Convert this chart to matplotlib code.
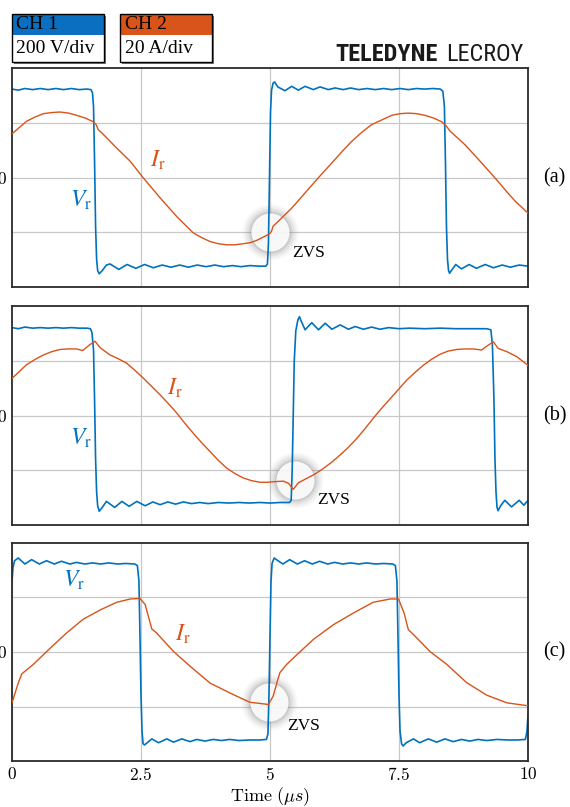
import matplotlib
matplotlib.use('Agg')
import matplotlib.pyplot as plt
from matplotlib import font_manager
from matplotlib.patches import Rectangle

plt.rcParams['font.family'] = ['Liberation Serif', 'DejaVu Serif']
plt.rcParams['mathtext.fontset'] = 'cm'

BLUE = '#0072BD'
ORANGE = '#D95319'

# ---- panel (a): time in us, level in divisions ----
va_t = [0.00, 0.12, 0.25, 0.40, 0.55, 0.70, 0.85, 1.00, 1.15, 1.30, 1.45, 1.53, 1.56, 1.58, 1.60, 1.62,
        1.64, 1.66, 1.69, 1.75, 1.83, 1.90, 2.07, 2.23, 2.40, 2.57, 2.74, 2.91, 3.08, 3.25, 3.42, 3.59,
        3.76, 3.93, 4.10, 4.27, 4.44, 4.61, 4.78, 4.92, 4.95, 4.97, 4.99, 5.01, 5.03, 5.06, 5.09, 5.15,
        5.29, 5.42, 5.55, 5.68, 5.84, 5.97, 6.13, 6.26, 6.42, 6.56, 6.72, 6.88, 7.04, 7.20, 7.36, 7.52,
        7.68, 7.84, 8.00, 8.16, 8.30, 8.35, 8.38, 8.40, 8.42, 8.44, 8.46, 8.48, 8.53, 8.60, 8.71, 8.86,
        9.00, 9.17, 9.33, 9.50, 9.66, 9.83, 10.0]
va_v = [1.62, 1.60, 1.63, 1.61, 1.63, 1.61, 1.63, 1.61, 1.63, 1.61, 1.62, 1.61, 1.55, 1.30, 0.30, -0.90,
        -1.50, -1.70, -1.76, -1.70, -1.60, -1.58, -1.68, -1.59, -1.66, -1.59, -1.65, -1.60, -1.64, -1.60, -1.64, -1.60,
        -1.63, -1.60, -1.63, -1.61, -1.63, -1.61, -1.62, -1.62, -1.58, -1.20, 0.00, 1.20, 1.60, 1.73, 1.75, 1.66,
        1.59, 1.67, 1.60, 1.67, 1.61, 1.66, 1.61, 1.64, 1.61, 1.64, 1.61, 1.63, 1.61, 1.63, 1.61, 1.63,
        1.61, 1.63, 1.62, 1.63, 1.62, 1.58, 1.30, 0.30, -0.90, -1.50, -1.70, -1.75, -1.68, -1.59, -1.67, -1.59,
        -1.66, -1.59, -1.65, -1.60, -1.64, -1.60, -1.62]
ia_t = [0.00, 0.28, 0.45, 0.61, 0.77, 0.93, 1.10, 1.25, 1.42, 1.58, 1.63, 1.67, 1.77, 2.03, 2.29, 2.54,
        2.87, 3.19, 3.51, 3.68, 3.84, 4.00, 4.16, 4.32, 4.48, 4.62, 4.74, 4.97, 5.00, 5.03, 5.06, 5.16,
        5.42, 5.68, 5.94, 6.20, 6.39, 6.58, 6.78, 6.97, 7.20, 7.36, 7.52, 7.68, 7.84, 8.00, 8.17, 8.33,
        8.42, 8.49, 8.78, 9.10, 9.26, 9.42, 9.58, 9.75, 10.0]
ia_v = [0.80, 1.03, 1.11, 1.17, 1.19, 1.20, 1.18, 1.14, 1.09, 1.02, 0.97, 0.88, 0.79, 0.54, 0.30, 0.00,
        -0.37, -0.71, -1.01, -1.10, -1.17, -1.21, -1.23, -1.23, -1.21, -1.19, -1.15, -1.04, -1.02, -0.98, -0.89, -0.80,
        -0.56, -0.28, 0.00, 0.27, 0.47, 0.66, 0.83, 0.97, 1.07, 1.14, 1.17, 1.18, 1.17, 1.14, 1.09, 1.02,
        0.94, 0.85, 0.60, 0.27, 0.10, -0.07, -0.25, -0.43, -0.65]

# ---- panel (b) ----
vb_t = [0.00, 0.12, 0.25, 0.40, 0.55, 0.70, 0.85, 1.00, 1.15, 1.30, 1.45, 1.52, 1.55, 1.58, 1.60, 1.62,
        1.64, 1.66, 1.69, 1.75, 1.83, 1.99, 2.13, 2.27, 2.42, 2.58, 2.73, 2.87, 3.02, 3.17, 3.32, 3.48,
        3.64, 3.80, 4.00, 4.20, 4.40, 4.60, 4.80, 5.00, 5.20, 5.38, 5.41, 5.43, 5.45, 5.47, 5.50, 5.54,
        5.57, 5.60, 5.68, 5.81, 5.94, 6.07, 6.20, 6.36, 6.52, 6.65, 6.81, 6.97, 7.13, 7.30, 7.50, 7.70,
        8.00, 8.30, 8.60, 8.90, 9.20, 9.28, 9.31, 9.34, 9.36, 9.38, 9.40, 9.42, 9.47, 9.55, 9.68, 9.83,
        9.92, 10.0]
vb_v = [1.61, 1.59, 1.62, 1.60, 1.61, 1.60, 1.61, 1.60, 1.61, 1.60, 1.60, 1.59, 1.52, 1.20, 0.30, -0.80,
        -1.40, -1.65, -1.75, -1.68, -1.57, -1.68, -1.57, -1.66, -1.57, -1.65, -1.58, -1.63, -1.58, -1.62, -1.58, -1.61,
        -1.59, -1.61, -1.59, -1.60, -1.59, -1.60, -1.59, -1.60, -1.59, -1.59, -1.55, -1.00, 0.00, 1.00, 1.55, 1.75,
        1.81, 1.74, 1.57, 1.70, 1.57, 1.69, 1.58, 1.66, 1.58, 1.63, 1.58, 1.62, 1.58, 1.61, 1.59, 1.60,
        1.59, 1.60, 1.59, 1.59, 1.59, 1.57, 1.30, 0.30, -0.80, -1.40, -1.68, -1.74, -1.65, -1.55, -1.67, -1.55,
        -1.64, -1.55]
ib_t = [0.00, 0.28, 0.45, 0.61, 0.77, 0.93, 1.09, 1.25, 1.37, 1.51, 1.61, 1.71, 1.90, 2.06, 2.22, 2.38,
        2.54, 2.70, 2.87, 3.03, 3.19, 3.35, 3.51, 3.67, 3.84, 4.00, 4.16, 4.32, 4.48, 4.64, 4.81, 4.96,
        5.06, 5.26, 5.36, 5.45, 5.55, 5.71, 5.87, 6.03, 6.20, 6.36, 6.52, 6.68, 6.84, 7.00, 7.16, 7.33,
        7.49, 7.65, 7.81, 7.97, 8.13, 8.29, 8.45, 8.62, 8.78, 8.94, 9.10, 9.23, 9.33, 9.42, 9.59, 9.78,
        10.0]
ib_v = [0.68, 0.93, 1.03, 1.11, 1.17, 1.21, 1.22, 1.22, 1.19, 1.30, 1.36, 1.24, 1.11, 1.04, 0.96, 0.83,
        0.69, 0.54, 0.38, 0.22, 0.05, -0.14, -0.32, -0.49, -0.66, -0.82, -0.96, -1.06, -1.14, -1.19, -1.22, -1.22,
        -1.21, -1.20, -1.24, -1.35, -1.23, -1.15, -1.07, -0.97, -0.85, -0.72, -0.58, -0.42, -0.24, -0.05, 0.13, 0.31,
        0.48, 0.65, 0.79, 0.92, 1.03, 1.12, 1.18, 1.21, 1.22, 1.22, 1.20, 1.29, 1.35, 1.23, 1.17, 1.08,
        0.92]

# ---- panel (c) ----
vc_t = [0.00, 0.02, 0.05, 0.12, 0.25, 0.38, 0.53, 0.67, 0.82, 0.96, 1.12, 1.25, 1.41, 1.56, 1.72, 1.87,
        2.05, 2.20, 2.38, 2.43, 2.46, 2.48, 2.50, 2.52, 2.54, 2.57, 2.62, 2.71, 2.84, 3.00, 3.13, 3.29,
        3.45, 3.58, 3.74, 3.90, 4.06, 4.22, 4.40, 4.60, 4.80, 4.93, 4.96, 4.98, 5.00, 5.02, 5.04, 5.08,
        5.14, 5.25, 5.38, 5.53, 5.67, 5.82, 5.96, 6.12, 6.25, 6.41, 6.56, 6.72, 6.87, 7.05, 7.20, 7.38,
        7.43, 7.46, 7.48, 7.50, 7.52, 7.55, 7.58, 7.64, 7.78, 7.90, 8.07, 8.23, 8.39, 8.55, 8.71, 8.87,
        9.03, 9.20, 9.40, 9.60, 9.80, 9.95, 9.98, 10.0]
vc_v = [1.30, 1.55, 1.67, 1.72, 1.61, 1.69, 1.61, 1.67, 1.61, 1.66, 1.61, 1.64, 1.61, 1.63, 1.61, 1.63,
        1.61, 1.62, 1.61, 1.58, 1.30, 0.30, -0.80, -1.45, -1.68, -1.70, -1.66, -1.59, -1.66, -1.59, -1.65, -1.59,
        -1.64, -1.60, -1.63, -1.60, -1.62, -1.60, -1.62, -1.61, -1.61, -1.60, -1.50, -0.80, 0.30, 1.30, 1.62, 1.72,
        1.68, 1.61, 1.69, 1.61, 1.67, 1.61, 1.66, 1.61, 1.64, 1.61, 1.63, 1.61, 1.63, 1.61, 1.62, 1.61,
        1.58, 1.30, 0.30, -0.80, -1.45, -1.68, -1.72, -1.66, -1.59, -1.66, -1.59, -1.65, -1.59, -1.64, -1.60, -1.63,
        -1.60, -1.62, -1.60, -1.61, -1.61, -1.60, -1.45, -1.15]
ic_t = [0.00, 0.12, 0.19, 0.41, 0.74, 1.06, 1.38, 1.71, 2.03, 2.29, 2.48, 2.58, 2.71, 2.80, 3.13, 3.45,
        3.84, 4.29, 4.61, 4.97, 5.06, 5.19, 5.32, 5.52, 5.84, 6.23, 6.61, 7.00, 7.33, 7.49, 7.60, 7.68,
        7.78, 8.10, 8.43, 8.81, 9.20, 9.59, 9.97, 10.0]
ic_v = [-0.93, -0.57, -0.40, -0.23, 0.07, 0.35, 0.60, 0.77, 0.91, 0.97, 0.98, 0.87, 0.42, 0.35, 0.01, -0.26,
        -0.57, -0.78, -0.92, -0.96, -0.81, -0.38, -0.23, -0.05, 0.23, 0.50, 0.71, 0.91, 0.97, 0.97, 0.71, 0.41,
        0.32, 0.01, -0.23, -0.56, -0.79, -0.93, -0.98, -0.98]

panels = [
    dict(vt=va_t, vv=va_v, it=ia_t, iv=ia_v, tag='(a)', vlab=(1.12, -0.42), ilab=(2.67, 0.32),
         zvs=(5.00, -1.00), zvs_txt=(5.43, -1.38)),
    dict(vt=vb_t, vv=vb_v, it=ib_t, iv=ib_v, tag='(b)', vlab=(1.12, -0.41), ilab=(3.00, 0.50),
         zvs=(5.48, -1.18), zvs_txt=(5.91, -1.55)),
    dict(vt=vc_t, vv=vc_v, it=ic_t, iv=ic_v, tag='(c)', vlab=(0.98, 1.32), ilab=(3.16, 0.32),
         zvs=(4.99, -0.92), zvs_txt=(5.33, -1.36)),
]

W, H = 570, 807
fig = plt.figure(figsize=(W / 100, H / 100), dpi=100)

tops = [68.3, 306.3, 542.7]
ph = 218.6
axes = []
for k, p in enumerate(panels):
    ax = fig.add_axes([12 / W, 1 - (tops[k] + ph) / H, 516 / W, ph / H])
    axes.append(ax)
    ax.set_xlim(0, 10)
    ax.set_ylim(-2, 2)
    ax.set_xticks([2.5, 5, 7.5])
    ax.set_yticks([-1, 0, 1])
    ax.grid(True, color='#c8c8c8', lw=0.9)
    ax.set_axisbelow(True)
    ax.tick_params(length=0, labelsize=12.5, pad=4)
    ax.set_yticklabels(['', '$0$', ''])
    for s in ax.spines.values():
        s.set_color('#2a2a2a')
        s.set_linewidth(1.3)

    # ZVS highlight
    zx, zy = p['zvs']
    for extra, a in [(9, 0.05), (7, 0.07), (5, 0.09), (3, 0.12), (1.5, 0.15)]:
        d = (2 * (19 + extra)) * 0.72
        ax.scatter([zx], [zy], s=d * d, color='#808080', alpha=a, lw=0, zorder=1.2)
    d = 38 * 0.72
    ax.scatter([zx], [zy], s=d * d, color='white', alpha=0.88, lw=0, zorder=1.5)

    ax.plot(p['it'], p['iv'], color=ORANGE, lw=1.0, zorder=3)
    ax.plot(p['vt'], p['vv'], color=BLUE, lw=1.2, zorder=2.5)

    ax.text(*p['vlab'], r'$V_\mathrm{r}$', color=BLUE, fontsize=17, math_fontfamily='stix',
            ha='left', va='center')
    ax.text(*p['ilab'], r'$I_\mathrm{r}$', color=ORANGE, fontsize=17, math_fontfamily='stix',
            ha='left', va='center')
    ax.text(*p['zvs_txt'], 'ZVS', fontsize=12.5, ha='left', va='center')
    ax.text(1.029, 0.5, p['tag'], transform=ax.transAxes, fontsize=14.5, ha='left', va='center')

for ax in axes[:2]:
    ax.set_xticklabels([])
axes[2].set_xticks([0, 2.5, 5, 7.5, 10])
axes[2].set_xticklabels(['$0$', '$2.5$', '$5$', '$7.5$', '$10$'])
axes[2].set_xlabel(r'$\mathrm{Time}\ (\mu s)$', fontsize=13, labelpad=1)


def px_rect(x0, y0, x1, y1, **kw):
    r = Rectangle((x0 / W, 1 - y1 / H), (x1 - x0) / W, (y1 - y0) / H, transform=fig.transFigure, **kw)
    fig.add_artist(r)


# channel boxes
for x0, x1, col, name, scale in [(12, 104, '#0A6FC0', 'CH 1', '200 V/div'),
                                 (120, 212, '#D9541A', 'CH 2', '20 A/div')]:
    px_rect(x0 + 2, 15.5, x1 + 2, 63.5, facecolor='#777777', edgecolor='none')
    px_rect(x0, 13.5, x1, 61.5, facecolor='white', edgecolor='none')
    px_rect(x0, 13.5, x1, 35, facecolor=col, edgecolor='none')
    px_rect(x0, 13.5, x1, 61.5, facecolor='none', edgecolor='black', lw=1.0)
    fig.text((x0 + 4.5) / W, 1 - 24.5 / H, name, fontsize=14, ha='left', va='center')
    fig.text((x0 + 4.5) / W, 1 - 48.5 / H, scale, fontsize=14, ha='left', va='center')

# logo: narrow sans if one is installed, else Roboto a bit smaller
have = {f.name for f in font_manager.fontManager.ttflist}
logo_kw = dict(family='Roboto', fontsize=15.5)
for name in ['Liberation Sans Narrow', 'Roboto Condensed', 'DejaVu Sans Condensed', 'Open Sans Condensed']:
    if name in have:
        logo_kw = dict(family=name, fontsize=17.5)
        break
t1 = fig.text(335 / W, 1 - 60.7 / H, 'TELEDYNE', fontweight='bold', color='#1a1a1a',
              ha='left', va='baseline', **logo_kw)
fig.text(523.3 / W, 1 - 60.7 / H, 'LECROY', color='#1a1a1a', ha='right', va='baseline', **logo_kw)

fig.savefig('out.png', dpi=100)
